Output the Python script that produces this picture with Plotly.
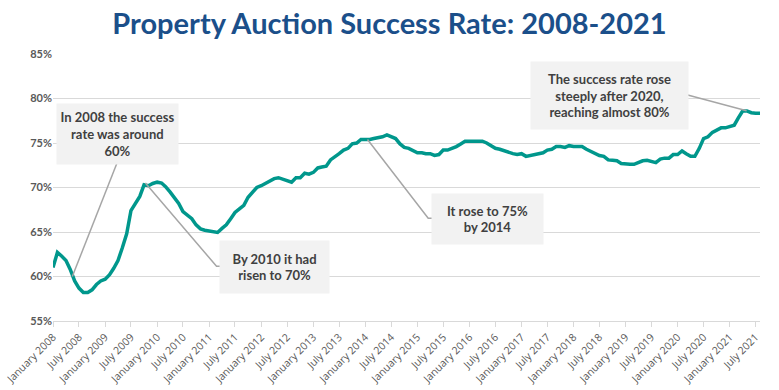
import pandas as pd
import plotly.graph_objects as go

# Monthly auction success rate (%), January 2008 .. August 2021
rate_2008 = [61.0, 62.7, 62.3, 61.8, 60.8, 59.5, 58.7, 58.2, 58.2, 58.5, 59.1, 59.5]
rate_2009 = [59.7, 60.2, 60.9, 61.8, 63.2, 64.8, 67.4, 68.2, 69.0, 70.3, 70.2, 70.45]
rate_2010 = [70.6, 70.5, 70.1, 69.5, 68.9, 68.2, 67.3, 66.9, 66.5, 65.8, 65.35, 65.2]
rate_2011 = [65.1, 65.0, 64.95, 65.4, 65.8, 66.5, 67.2, 67.6, 68.0, 68.9, 69.5, 70.0]
rate_2012 = [70.2, 70.5, 70.8, 71.0, 71.1, 70.9, 70.8, 70.6, 71.1, 71.1, 71.6, 71.5]
rate_2013 = [71.7, 72.2, 72.3, 72.4, 73.1, 73.4, 73.8, 74.2, 74.4, 74.9, 75.0, 75.4]
rate_2014 = [75.4, 75.4, 75.5, 75.6, 75.7, 75.9, 75.7, 75.5, 74.9, 74.5, 74.4, 74.1]
rate_2015 = [73.9, 73.9, 73.8, 73.8, 73.6, 73.7, 74.2, 74.2, 74.4, 74.6, 74.9, 75.2]
rate_2016 = [75.2, 75.2, 75.2, 75.2, 75.0, 74.7, 74.4, 74.3, 74.1, 74.0, 73.8, 73.7]
rate_2017 = [73.8, 73.5, 73.6, 73.7, 73.8, 73.9, 74.2, 74.3, 74.6, 74.6, 74.5, 74.7]
rate_2018 = [74.6, 74.6, 74.6, 74.3, 74.1, 73.9, 73.6, 73.5, 73.1, 73.05, 73.0, 72.7]
rate_2019 = [72.6, 72.6, 72.6, 72.8, 73.0, 73.05, 72.9, 72.8, 73.2, 73.3, 73.3, 73.7]
rate_2020 = [73.7, 74.1, 73.8, 73.5, 73.5, 74.4, 75.5, 75.7, 76.2, 76.5, 76.7, 76.7]
rate_2021 = [76.9, 77.0, 77.8, 78.6, 78.6, 78.4, 78.35, 78.35]

start_month = "2008-01-01"
y_ticks = [55, 60, 65, 70, 75, 80, 85]
y_tick_labels = ["55%", "60%", "65%", "70%", "75%", "80%", "85%"]
x_tick_dates = [f"{y}-{m:02d}-01" for y in range(2008, 2022) for m in (1, 7)]
x_tick_labels = [f"{name} {y}" for y in range(2008, 2022) for name in ("January", "July")]

title_text = "Property Auction Success Rate: 2008-2021"
notes = [
    "In 2008 the success<br>rate was around<br>60%",
    "By 2010 it had<br>risen to 70%",
    "It rose to 75%<br>by 2014",
    "The success rate rose<br>steeply after 2020,<br>reaching almost 80%",
]

rates = (rate_2008 + rate_2009 + rate_2010 + rate_2011 + rate_2012 + rate_2013 + rate_2014
         + rate_2015 + rate_2016 + rate_2017 + rate_2018 + rate_2019 + rate_2020 + rate_2021)
dates = pd.date_range(start_month, periods=len(rates), freq="MS")


def mdate(m):
    """date at a fractional month offset from the start"""
    return pd.Timestamp(start_month) + pd.Timedelta(days=m * 30.437)


TEAL = "#00978C"
GRID = "#D9D9D9"
LEADER = "#A6A6A6"
BOX = "#F2F2F2"
TXT = "#404040"

fig = go.Figure()
fig.add_trace(go.Scatter(x=dates, y=rates, mode="lines",
                         line=dict(color=TEAL, width=3.5), hoverinfo="skip"))

# leader lines (point -> box)
leaders = [
    [(4.45, 60.0), (14.8, 72.8)],
    [(21.3, 70.5), (37.7, 61.15), (38.6, 61.15)],
    [(72.5, 75.4), (86.5, 66.55), (87.5, 66.55)],
    [(159.9, 78.62), (146.1, 80.42)],
]
for pts in leaders:
    fig.add_trace(go.Scatter(x=[mdate(p[0]) for p in pts], y=[p[1] for p in pts],
                             mode="lines", line=dict(color=LEADER, width=1.5),
                             hoverinfo="skip"))

# callout boxes: (month offset of centre, value of centre, width, height)
boxes = [(14.9, 76.0, 119, 58), (51.0, 61.1, 107, 50), (100.1, 66.45, 109, 48), (128.2, 80.33, 155, 65)]
for (m, v, w, h), t in zip(boxes, notes):
    fig.add_annotation(x=mdate(m), y=v, xref="x", yref="y", text=t, showarrow=False,
                       width=w, height=h, bgcolor=BOX, align="center", valign="middle",
                       font=dict(family="Lato", size=13, color=TXT, weight="bold"))

fig.update_layout(
    width=779, height=390,
    margin=dict(l=53, r=19, t=54, b=69, autoexpand=False),
    paper_bgcolor="white", plot_bgcolor="white",
    showlegend=False,
    title=dict(text=title_text, x=0.5, xanchor="center", y=1 - 24 / 390, yanchor="middle",
               yref="container", automargin=False,
               font=dict(family="Lato", size=29, color="#1B4F8A", weight="bold")),
)
fig.update_xaxes(
    type="date", range=[dates[0], dates[-1]], automargin=False,
    tickvals=x_tick_dates, ticktext=x_tick_labels, tickangle=-45,
    tickfont=dict(family="Open Sans", size=10.5, color="#595959"),
    showgrid=False, showline=True, linecolor=GRID, linewidth=1,
    ticks="outside", ticklen=5, tickcolor=GRID, zeroline=False,
)
fig.update_yaxes(
    range=[55, 85], tickvals=y_ticks, ticktext=y_tick_labels, automargin=False,
    tickfont=dict(family="Lato", size=11, color="#595959", weight="bold"),
    showgrid=True, gridcolor=GRID, gridwidth=1, zeroline=False, ticks="", ticklen=0,
    showline=False,
)

fig.write_html(
    "out.html",
    config={"responsive": False, "displayModeBar": False},
    post_script="document.body.style.margin='0';document.body.style.overflow='hidden';",
)
